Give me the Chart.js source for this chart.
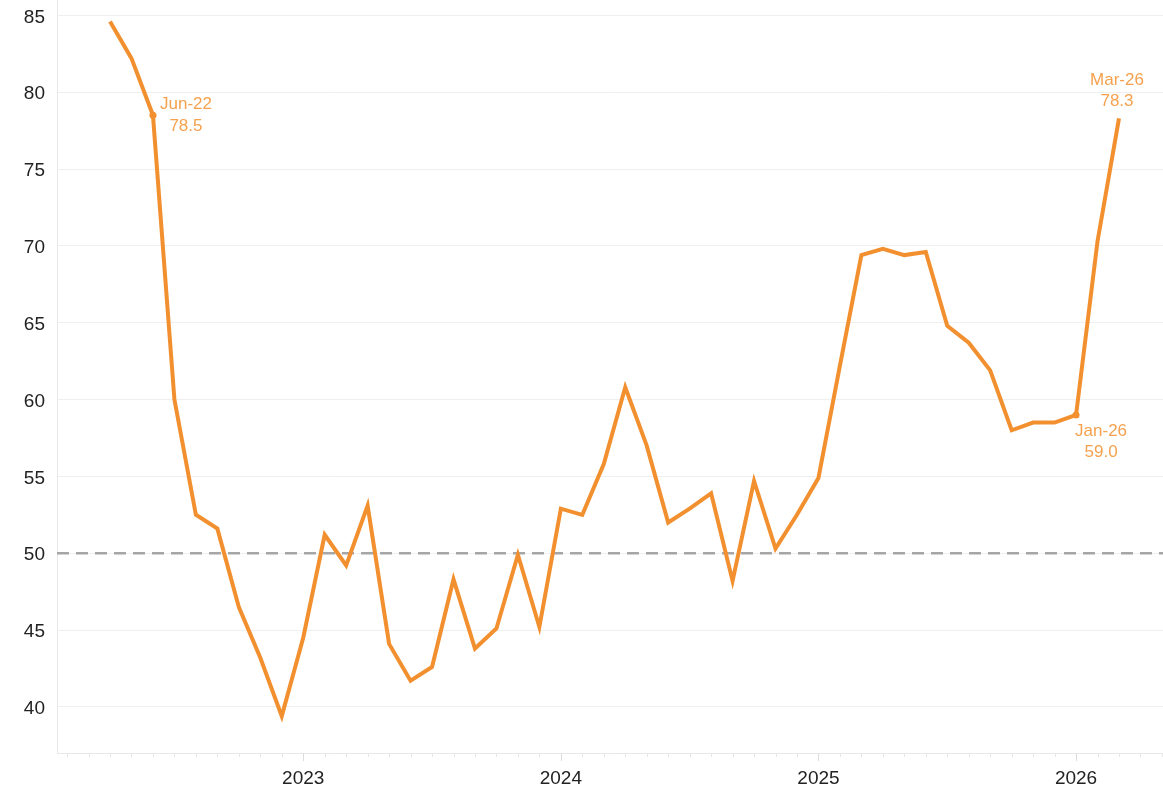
<!DOCTYPE html>
<html>
<head>
<meta charset="utf-8">
<script src="https://cdn.jsdelivr.net/npm/chart.js@4.4.1/dist/chart.umd.min.js"></script>
<style>
  html, body { margin: 0; padding: 0; background: #ffffff; }
  #wrap { width: 1163px; height: 789px; }
</style>
</head>
<body>
<div id="wrap"><canvas id="c" width="1163" height="789"></canvas></div>
<script>
// Months (first = Apr-22), month index counted from Jan-22 = 0
const months = ['Apr-22','May-22','Jun-22','Jul-22','Aug-22','Sep-22','Oct-22','Nov-22','Dec-22',
  'Jan-23','Feb-23','Mar-23','Apr-23','May-23','Jun-23','Jul-23','Aug-23','Sep-23','Oct-23','Nov-23','Dec-23',
  'Jan-24','Feb-24','Mar-24','Apr-24','May-24','Jun-24','Jul-24','Aug-24','Sep-24','Oct-24','Nov-24','Dec-24',
  'Jan-25','Feb-25','Mar-25','Apr-25','May-25','Jun-25','Jul-25','Aug-25','Sep-25','Oct-25','Nov-25','Dec-25',
  'Jan-26','Feb-26','Mar-26'];
const firstMonthIndex = 3;
const values = [84.6, 82.2, 78.5, 60.0, 52.5, 51.6, 46.5, 43.2, 39.4,
  44.5, 51.2, 49.2, 53.1, 44.1, 41.7, 42.6, 48.3, 43.8, 45.1, 49.9, 45.2,
  52.9, 52.5, 55.8, 60.8, 57.0, 52.0, 52.9, 53.9, 48.2, 54.7, 50.3, 52.5,
  54.9, 62.2, 69.4, 69.8, 69.4, 69.6, 64.8, 63.7, 61.9, 58.0, 58.5, 58.5,
  59.0, 70.3, 78.3];
const yTicks = [40, 45, 50, 55, 60, 65, 70, 75, 80, 85];
const yearTicks = [12, 24, 36, 48];
const yearLabels = ['2023', '2024', '2025', '2026'];
const referenceLevel = 50;
const annotated = ['Jun-22', 'Jan-26', 'Mar-26'];
const dotted = ['Jun-22', 'Jan-26'];

const LINE = '#F29030';
const LABEL = '#F5A14E';
const FONT = '"Liberation Sans", Arial, sans-serif';

const points = months.map((m, i) => ({ x: firstMonthIndex + i, y: values[i] }));

const labelOffsets = {
  'Jun-22': { dx: 33, dy1: -11, dy2: 11 },
  'Jan-26': { dx: 25, dy1: 16, dy2: 37 },
  'Mar-26': { dx: -2, dy1: -38, dy2: -17 }
};

const extras = {
  id: 'extras',
  beforeDatasetsDraw(chart) {
    const { ctx, chartArea, scales } = chart;
    const x = scales.x, y = scales.y;
    ctx.save();
    const first = Math.ceil(x.min), last = Math.floor(x.max);
    for (let m = first; m <= last; m++) {
      const px = Math.round(x.getPixelForValue(m)) + 0.5;
      const major = m % 12 === 0;
      ctx.strokeStyle = major ? '#dcdcdc' : '#e6e6e6';
      ctx.lineWidth = 1;
      ctx.beginPath();
      ctx.moveTo(px, chartArea.bottom);
      ctx.lineTo(px, chartArea.bottom + (major ? 8 : 4));
      ctx.stroke();
    }
    const py = y.getPixelForValue(referenceLevel);
    ctx.strokeStyle = '#a6a6a6';
    ctx.lineWidth = 2.5;
    ctx.setLineDash([12, 7]);
    ctx.beginPath();
    ctx.moveTo(chartArea.left, py);
    ctx.lineTo(chartArea.right, py);
    ctx.stroke();
    ctx.restore();
  },
  afterDatasetsDraw(chart) {
    const { ctx, scales } = chart;
    ctx.save();
    ctx.font = '17px ' + FONT;
    ctx.fillStyle = LABEL;
    ctx.textAlign = 'center';
    ctx.textBaseline = 'middle';
    annotated.forEach(m => {
      const i = months.indexOf(m);
      const px = scales.x.getPixelForValue(points[i].x);
      const py = scales.y.getPixelForValue(points[i].y);
      const o = labelOffsets[m];
      ctx.fillText(m, px + o.dx, py + o.dy1);
      ctx.fillText(values[i].toFixed(1), px + o.dx, py + o.dy2);
    });
    ctx.restore();
  }
};

new Chart(document.getElementById('c'), {
  type: 'line',
  data: {
    datasets: [{
      data: points,
      borderColor: LINE,
      backgroundColor: LINE,
      borderWidth: 4,
      tension: 0,
      borderJoinStyle: 'miter',
      pointRadius: ctx => dotted.includes(months[ctx.dataIndex]) ? 3.5 : 0,
      pointHoverRadius: 0,
      pointBorderWidth: 0,
      pointBackgroundColor: LINE,
      clip: false
    }]
  },
  options: {
    responsive: false,
    animation: false,
    devicePixelRatio: 1,
    layout: { padding: { top: 0, right: 0, left: 0, bottom: 0 } },
    plugins: { legend: { display: false }, tooltip: { enabled: false } },
    scales: {
      x: {
        type: 'linear',
        min: 0.53,
        max: 52.05,
        afterBuildTicks: s => { s.ticks = yearTicks.map(v => ({ value: v })); },
        afterFit: s => { s.height = 36; s.paddingLeft = 0; s.paddingRight = 0; },
        ticks: {
          autoSkip: false,
          maxRotation: 0,
          padding: 14,
          color: '#222222',
          font: { family: FONT, size: 19 },
          callback: v => yearLabels[yearTicks.indexOf(v)]
        },
        grid: { display: true, drawOnChartArea: false, drawTicks: false },
        border: { display: true, color: '#e8e8e8', width: 1 }
      },
      y: {
        min: 37,
        max: 86,
        afterBuildTicks: s => { s.ticks = yTicks.map(v => ({ value: v })); },
        afterFit: s => { s.width = 57; s.paddingTop = 0; s.paddingBottom = 0; },
        ticks: {
          padding: 12,
          labelOffset: 2,
          color: '#222222',
          font: { family: FONT, size: 19 }
        },
        grid: { color: '#efefef', lineWidth: 1, drawTicks: false },
        border: { display: true, color: '#e8e8e8', width: 1 }
      }
    }
  },
  plugins: [extras]
});
</script>
</body>
</html>
